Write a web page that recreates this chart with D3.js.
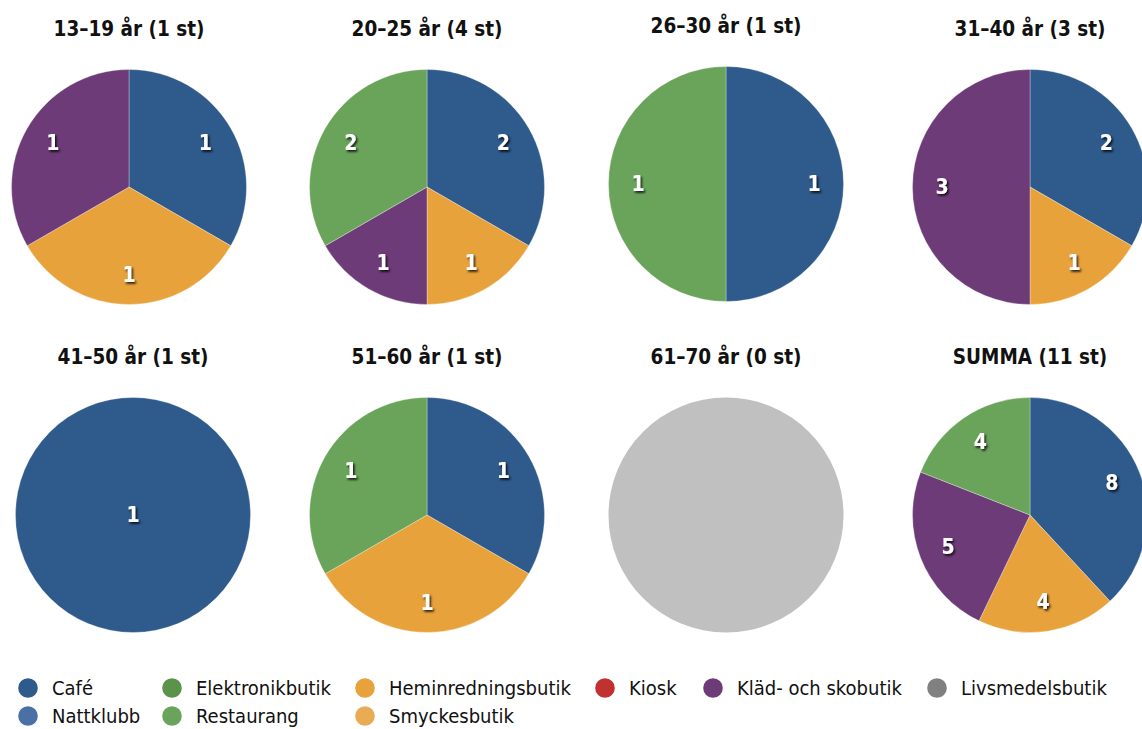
<!DOCTYPE html>
<html>
<head>
<meta charset="utf-8">
<script src="https://cdn.jsdelivr.net/npm/d3@7"></script>
<style>
  html, body { margin: 0; padding: 0; background: #fff; }
  svg { display: block; }
  .title { font-family: "DejaVu Sans Condensed", "DejaVu Sans", sans-serif; font-size: 20.5px; font-weight: 600; fill: #111; }
  .val { font-family: "DejaVu Sans Condensed", "DejaVu Sans", sans-serif; font-size: 21px; font-weight: bold; fill: #fff; }
  .leg { font-family: "DejaVu Sans Condensed", "DejaVu Sans", sans-serif; font-size: 20px; fill: #111; }
</style>
</head>
<body>
<svg id="chart" width="1142" height="729"></svg>
<script>
// Store categories (alphabetical, also the slice order)
const categories = ["Café", "Elektronikbutik", "Heminredningsbutik", "Kiosk", "Kläd- och skobutik",
                    "Livsmedelsbutik", "Nattklubb", "Restaurang", "Smyckesbutik"];
const colors = ["#2e5a8c", "#5a9448", "#e8a23c", "#c0312f", "#6e3b79",
                "#808080", "#4a70a5", "#6aa45a", "#eaab55"];

// Age groups with respondent counts
const groups = ["13–19 år", "20–25 år", "26–30 år", "31–40 år", "41–50 år", "51–60 år", "61–70 år", "SUMMA"];
const respondents = [1, 4, 1, 3, 1, 1, 0, 11];

// Number of mentions per store category, one array per group (order = categories)
const v1319 = [1, 0, 1, 0, 1, 0, 0, 0, 0];
const v2025 = [2, 0, 1, 0, 1, 0, 0, 2, 0];
const v2630 = [1, 0, 0, 0, 0, 0, 0, 1, 0];
const v3140 = [2, 0, 1, 0, 3, 0, 0, 0, 0];
const v4150 = [1, 0, 0, 0, 0, 0, 0, 0, 0];
const v5160 = [1, 0, 1, 0, 0, 0, 0, 1, 0];
const v6170 = [0, 0, 0, 0, 0, 0, 0, 0, 0];
const vSumma = [8, 0, 4, 0, 5, 0, 0, 4, 0];
const values = [v1319, v2025, v2630, v3140, v4150, v5160, v6170, vSumma];

const svg = d3.select("#chart");

// soft dark shadow behind the white value labels
const defs = svg.append("defs");
const f = defs.append("filter").attr("id", "shadow")
  .attr("x", "-50%").attr("y", "-50%").attr("width", "200%").attr("height", "200%");
f.append("feDropShadow").attr("dx", 1.5).attr("dy", 1.8).attr("stdDeviation", 1.1)
  .attr("flood-color", "#000").attr("flood-opacity", 0.85);

const colX = d3.scaleOrdinal().domain([0, 1, 2, 3]).range([129, 427, 726, 1030]);
const rowY = d3.scaleOrdinal().domain([0, 1]).range([187, 515]);
// small per-panel nudges of the grid layout
const nudgeX = [0, 0, 0, 0, 4, 0, 0, 0];
const nudgeY = [0, 0, -3, 0, 0, 0, 0, 0];
const radius = 117.5;
const labelR = 88;

const pie = d3.pie().sort(null).value(d => d.v);
const arc = d3.arc().innerRadius(0).outerRadius(radius);
const labelArc = d3.arc().innerRadius(labelR).outerRadius(labelR);

groups.forEach((g, i) => {
  const col = i % 4, row = Math.floor(i / 4);
  const cx = colX(col) + nudgeX[i], cy = rowY(row) + nudgeY[i];
  const panel = svg.append("g").attr("transform", `translate(${cx},${cy})`);

  panel.append("text").attr("class", "title")
    .attr("x", 0).attr("y", -radius - 34)
    .attr("text-anchor", "middle")
    .text(`${g} (${respondents[i]} st)`);

  const data = categories.map((c, k) => ({ c, k, v: values[i][k] })).filter(d => d.v > 0);
  const total = d3.sum(data, d => d.v);

  if (total === 0) {
    panel.append("circle").attr("r", radius).attr("fill", "#c0c0c0");
    return;
  }

  const arcs = pie(data);
  panel.selectAll("path").data(arcs).join("path")
    .attr("d", arc)
    .attr("fill", d => colors[d.data.k])
    .attr("stroke", "#fff").attr("stroke-width", 0.6).attr("stroke-opacity", 0.5);

  panel.selectAll("text.val").data(arcs).join("text")
    .attr("class", "val")
    .attr("filter", "url(#shadow)")
    .attr("text-anchor", "middle")
    .attr("dominant-baseline", "central")
    .attr("transform", d => {
      const p = (d.endAngle - d.startAngle >= 2 * Math.PI - 1e-6) ? [0, 0] : labelArc.centroid(d);
      return `translate(${p[0]},${p[1]})`;
    })
    .text(d => d.data.v);
});

// Legend: six entries per row, in category order
const legX = [28, 172, 365, 605, 713, 937];
const legY = [688, 716];
const leg = svg.append("g");
categories.forEach((c, k) => {
  const x = legX[k % 6], y = legY[Math.floor(k / 6)];
  leg.append("circle").attr("cx", x).attr("cy", y).attr("r", 9.8).attr("fill", colors[k]);
  leg.append("text").attr("class", "leg").attr("x", x + 24).attr("y", y)
    .attr("dominant-baseline", "central").text(c);
});
</script>
</body>
</html>
